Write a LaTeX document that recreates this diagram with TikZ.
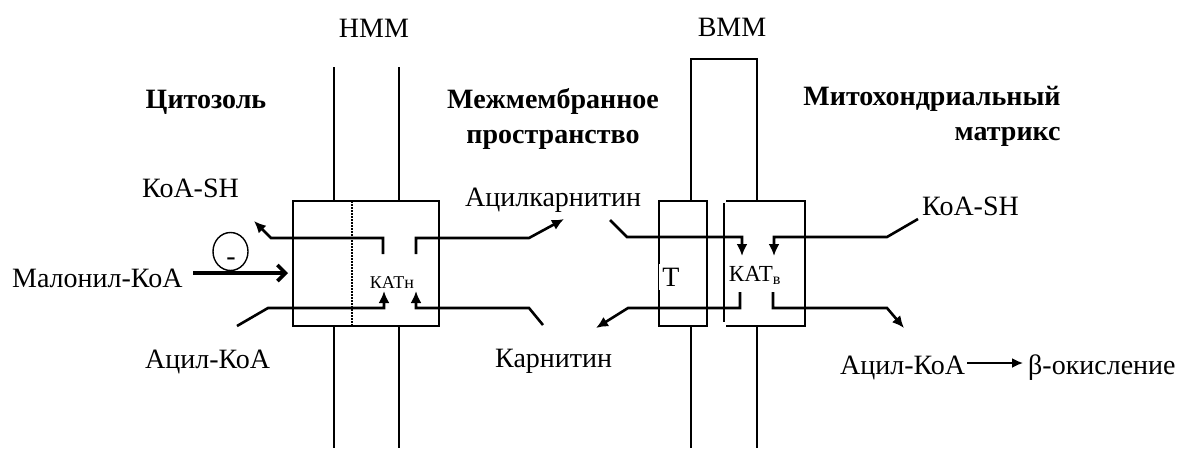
\documentclass[tikz,border=0pt]{standalone}
\usepackage{fontspec}
\setmainfont{Liberation Serif}
\usetikzlibrary{arrows.meta,shapes.geometric}
\begin{document}
\begin{tikzpicture}[x=1pt,y=-1pt,
  lbl/.style={font=\fontsize{28}{32}\selectfont, inner sep=0pt},
  hdr/.style={font=\fontsize{28}{35}\selectfont\bfseries, inner sep=0pt},
  memb/.style={line width=1.6pt},
  boxline/.style={line width=1.6pt},
  flow/.style={line width=2.6pt},
  arr/.style={flow, -{Latex[length=12pt,width=11pt]}},
  barb/.style={line width=3.6pt, -{Straight Barb[length=8pt,width=16pt]}},
  thinarr/.style={line width=1.8pt, -{Latex[length=11pt,width=10pt]}},
]
\useasboundingbox (0,0) rectangle (1184,448);

% membrane labels
\node[lbl, anchor=base] (nmm) at (374,37) {НММ};
\node[lbl, anchor=base] (vmm) at (732,36) {ВММ};

% compartment headers
\node[hdr, anchor=base] (cyt) at (206,108) {Цитозоль};
\node[hdr, anchor=north, align=center] (ims) at (553,88) {Межмембранное\\пространство};
\node[hdr, anchor=north, align=right] (mtx) at (932,86) {Митохондриальный\\матрикс};

% outer membrane
\draw[memb] (334,67) -- (334,201) (334,326) -- (334,448);
\draw[memb] (399,67) -- (399,201) (399,326) -- (399,448);
% inner membrane
\draw[memb] (691,201) -- (691,59) -- (757,59) -- (757,201);
\draw[memb] (691,326) -- (691,448) (757,326) -- (757,448);

% CAT-1 box
\node[draw, boxline, minimum width=146pt, minimum height=125pt, inner sep=0pt] (katNbox) at (366,263.5) {};
\draw[line width=1.4pt, dash pattern=on 1.6pt off 1.4pt] (352,201) -- (352,326);
\node[font=\fontsize{18}{20}\selectfont, inner sep=0pt, anchor=base] (katN) at (392,288) {КАТн};

% translocase and CAT-2 boxes
\node[draw, boxline, minimum width=48pt, minimum height=125pt, inner sep=0pt] (tbox) at (683,263.5) {};
\node[lbl, anchor=base, fill=white, inner xsep=3pt, inner ysep=4pt] (tlbl) at (671,286) {Т};
\node[minimum width=81pt, minimum height=125pt, inner sep=0pt] (katVbox) at (765.5,263.5) {};
\draw[boxline] (726,201) -- (805,201) -- (805,326) -- (726,326);
\draw[boxline] (724,203) -- (724,322);
\node[font=\fontsize{23}{26}\selectfont, inner sep=0pt, anchor=base] (katV) at (755,281) {КАТ\textsubscript{в}};

% substrate / product labels
\node[lbl, anchor=base west] (coaL) at (142,197) {КоА-SH};
\node[lbl, anchor=base west] (malL) at (12,287) {Малонил-КоА};
\node[lbl, anchor=base west] (acylL) at (145,368) {Ацил-КоА};
\node[lbl, anchor=base west] (acylcarn) at (465,206) {Ацилкарнитин};
\node[lbl, anchor=base west] (carn) at (495,367) {Карнитин};
\node[lbl, anchor=base west] (coaR) at (922,215) {КоА-SH};
\node[lbl, anchor=base west] (acylR) at (840,374) {Ацил-КоА};
\node[lbl, anchor=base west] (beta) at (1028,374) {β-окисление};

% inhibition sign
\node[draw, ellipse, line width=1.4pt, minimum width=35pt, minimum height=38pt, inner sep=0pt] (inh) at (230.5,251.5) {};
\node[lbl, anchor=base] (minus) at (231,265) {-};

% coordinates
\coordinate (malS) at (193,273);
\coordinate (malT) at (288,273);
\coordinate (nUL) at (383,254);
\coordinate (nULc) at (271,238);
\coordinate (coaLtip) at (254,221);
\coordinate (nUR) at (416,254);
\coordinate (nURc) at (529,238);
\coordinate (acTip) at (564,219);
\coordinate (acylLs) at (237,326);
\coordinate (acylLc) at (268,308);
\coordinate (nLL) at (384,291);
\coordinate (carnS) at (543,325);
\coordinate (carnC) at (529,308);
\coordinate (nLR) at (416,291);
\coordinate (acS) at (610,220);
\coordinate (acC) at (627,237);
\coordinate (vUL) at (742,256);
\coordinate (coaRs) at (918,219);
\coordinate (coaRc) at (887,237);
\coordinate (vUR) at (774,256);
\coordinate (vLL) at (740,292);
\coordinate (vLLc) at (628,308);
\coordinate (carnTip) at (596,328);
\coordinate (vLR) at (773,292);
\coordinate (vLRc) at (887,308);
\coordinate (acylRtip) at (904,328);
\coordinate (betaS) at (967,363);
\coordinate (betaT) at (1023,363);

% malonyl-CoA inhibition arrow
\draw[barb] (malS) -- (malT);

% CAT-1 flows
\draw[arr] (nUL) |- (nULc) -- (coaLtip);
\draw[arr] (nUR) |- (nURc) -- (acTip);
\draw[arr] (acylLs) -- (acylLc) -| (nLL);
\draw[arr] (carnS) -- (carnC) -| (nLR);

% CAT-2 / translocase flows
\draw[arr] (acS) -- (acC) -| (vUL);
\draw[arr] (coaRs) -- (coaRc) -| (vUR);
\draw[arr] (vLL) |- (vLLc) -- (carnTip);
\draw[arr] (vLR) |- (vLRc) -- (acylRtip);

% beta-oxidation
\draw[thinarr] (betaS) -- (betaT);
\end{tikzpicture}
\end{document}
